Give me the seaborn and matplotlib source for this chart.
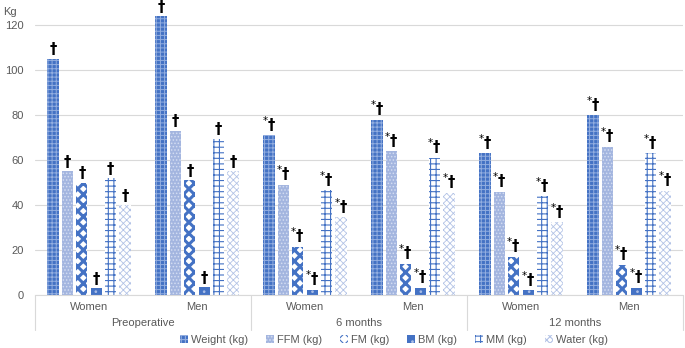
import pandas as pd
import matplotlib.pyplot as plt
import matplotlib.patches as mpatches
import matplotlib.transforms as mtransforms
import seaborn as sns

# Data (kg) per group: Preop W/M, 6m W/M, 12m W/M
periods = ['Preoperative', '6 months', '12 months']
sexes = ['Women', 'Men']
measures = ['Weight (kg)', 'FFM (kg)', 'FM (kg)', 'BM (kg)', 'MM (kg)', 'Water (kg)']

weight = [105, 124, 71, 78, 63, 80]
ffm = [55, 73, 49, 64, 46, 66]
fm = [50, 51, 21.5, 14, 17, 13.5]
bm = [3, 3.6, 2.4, 3.2, 2.2, 3.2]
mm = [52, 69.5, 46.5, 61, 44, 63]
water = [40, 55, 34.5, 45.5, 32.3, 46.3]

marks = ['\u2020', '\u2020'] + ['$^{*}$\u2020'] * 4

groups = [f'{p}|{s}' for p in periods for s in sexes]
values = [weight, ffm, fm, bm, mm, water]
df = pd.DataFrame({
    'group': groups * len(measures),
    'measure': [m for m in measures for _ in groups],
    'kg': [v for series in values for v in series],
})

# pattern styles per measure: face, hatch, hatch colour, hatch width
styles = [
    ('#4472c4', '++++', '#93aee0', 0.7),
    ('#a3b5df', '.....', '#d3ddf2', 0.7),
    ('white', 'xxx', '#4472c4', 2.2),
    ('#4472c4', '..', '#a9bde6', 0.7),
    ('white', '+++', '#4472c4', 0.8),
    ('white', 'xxxxx', '#b3c3e6', 0.6),
]

sns.set_style('white')
plt.rcParams['font.family'] = ['Liberation Sans', 'DejaVu Sans']
plt.rcParams['hatch.linewidth'] = 0.8

fig = plt.figure(figsize=(6.85, 3.48), dpi=100)
ax = fig.add_axes([35 / 685, 53 / 348, 648 / 685, 281.25 / 348])

sns.barplot(data=df, x='group', y='kg', hue='measure', order=groups,
            hue_order=measures, width=0.8, gap=0.22, ax=ax, legend=False)

for cont, (face, hatch, hcol, hlw) in zip(ax.containers, styles):
    for bar in cont:
        bar.set_facecolor(face)
        bar.set_hatch(hatch)
        bar.set_edgecolor(hcol)
        bar.set_linewidth(0)
        if hasattr(bar, 'set_hatch_linewidth'):
            bar.set_hatch_linewidth(hlw)
    ax.bar_label(cont, labels=marks, padding=1, fontsize=10.5,
                 fontweight='bold', color='black', family='DejaVu Sans')

ax.set_ylim(0, 125)
ax.set_xlim(-0.5, 5.5)
ax.set_yticks(range(0, 121, 20))
ax.yaxis.grid(True, color='#d9d9d9', linewidth=0.8)
ax.set_axisbelow(True)
for s in ['top', 'right', 'left']:
    ax.spines[s].set_visible(False)
ax.spines['bottom'].set_color('#d9d9d9')
ax.tick_params(axis='both', length=0, labelsize=8, labelcolor='#595959')
ax.tick_params(axis='x', pad=5)
ax.tick_params(axis='y', pad=8)
ax.set_xticks(range(6))
ax.set_xticklabels(sexes * 3)
ax.set_xlabel('')
ax.set_ylabel('')

# second level of the category axis
trans = mtransforms.blended_transform_factory(ax.transData, ax.transAxes)
for i, p in enumerate(periods):
    ax.text(2 * i + 0.5, -28 / 281.25, p, transform=trans, ha='center',
            va='center', fontsize=8, color='#595959')
for xs in [-0.5, 1.5, 3.5, 5.5]:
    ax.plot([xs, xs], [0, -35 / 281.25], transform=trans, color='#d9d9d9',
            linewidth=0.8, clip_on=False)

fig.text(3 / 685, 1 - 12 / 348, 'Kg', fontsize=8, color='#595959', va='center')

handles = []
for (face, hatch, hcol, hlw), m in zip(styles, measures):
    handles.append(mpatches.Patch(facecolor=face, edgecolor=hcol, hatch=hatch,
                                  linewidth=0, label=m))
fig.legend(handles=handles, loc='center', bbox_to_anchor=(0.575, 1 - 340 / 348),
           ncol=6, frameon=False, fontsize=8, labelcolor='#595959',
           handlelength=0.7, handleheight=0.7, handletextpad=0.3,
           columnspacing=1.6)

fig.savefig('out.png', dpi=100)
